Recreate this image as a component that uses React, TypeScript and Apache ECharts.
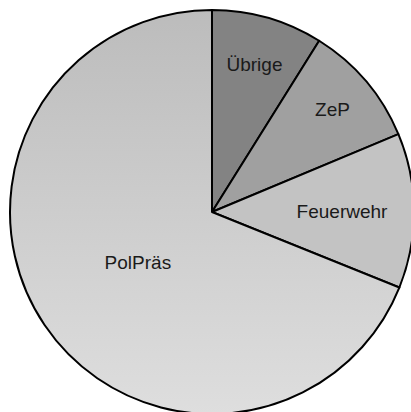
import React, { useEffect, useRef } from "react";
import * as echarts from "echarts";

const categories = ["Übrige", "ZeP", "Feuerwehr", "PolPräs"];
const values = [8.9, 9.8, 12.4, 68.9];
const labelRadiusFraction = [0.74, 0.76, 0.625, 0.43];

export default function App() {
  const ref = useRef<HTMLDivElement>(null);
  useEffect(() => {
    document.body.style.margin = "0";
    if (!ref.current) return;
    const chart = echarts.init(ref.current, undefined, { renderer: "svg" });
    const cx = 212;
    const cy = 212;
    const colors: any[] = [
      "#838383",
      "#a0a0a0",
      "#c3c3c3",
      new echarts.graphic.LinearGradient(0, 0, 0, 1, [
        { offset: 0, color: "#bcbcbc" },
        { offset: 1, color: "#dedede" },
      ]),
    ];
    chart.setOption({
      animation: false,
      backgroundColor: "#ffffff",
      series: [
        {
          type: "pie",
          center: [cx, cy],
          radius: [0, 202],
          startAngle: 90,
          clockwise: true,
          avoidLabelOverlap: false,
          label: {
            show: true,
            position: "inside",
            formatter: "{b}",
            color: "#1a1a1a",
            fontSize: 19,
            fontFamily: "Liberation Sans",
          },
          labelLine: { show: false },
          labelLayout: (params: any) => {
            const r = params.labelRect;
            const lx = r.x + r.width / 2;
            const ly = r.y + r.height / 2;
            const k = labelRadiusFraction[params.dataIndex] / 0.5;
            return { dx: (lx - cx) * (k - 1), dy: (ly - cy) * (k - 1) };
          },
          itemStyle: { borderColor: "#000000", borderWidth: 2 },
          emphasis: { disabled: true },
          data: categories.map((name, i) => ({
            name,
            value: values[i],
            itemStyle: { color: colors[i] },
          })),
        },
      ],
    });
    return () => chart.dispose();
  }, []);
  return <div ref={ref} style={{ width: 411, height: 412 }} />;
}
